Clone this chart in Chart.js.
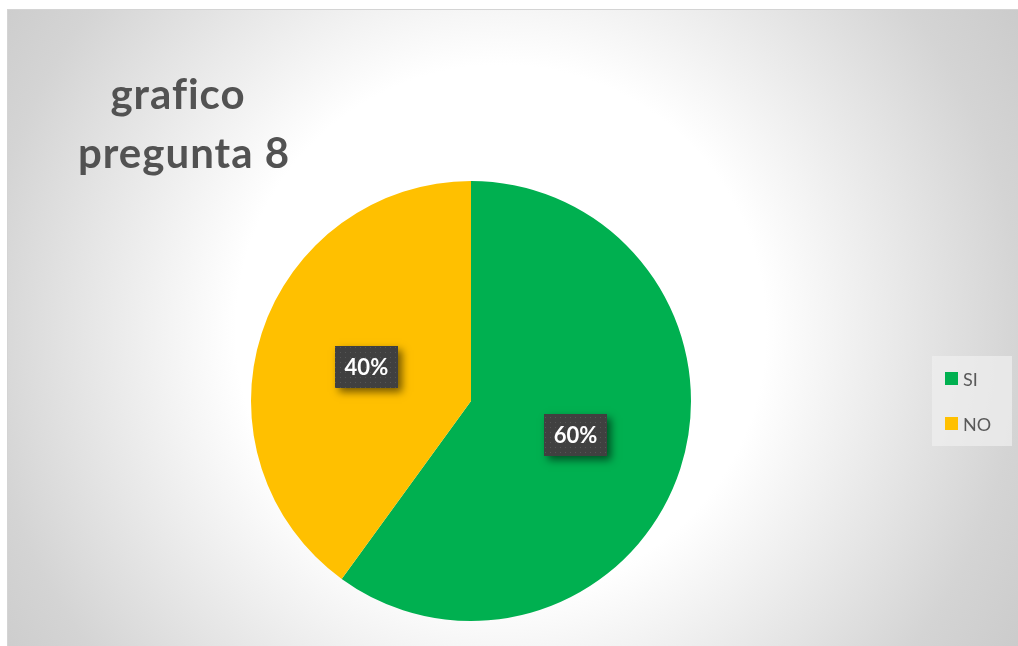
<!DOCTYPE html>
<html lang="es">
<head>
    <meta charset="UTF-8">
    <title>grafico pregunta 8</title>
    <script src="https://cdn.jsdelivr.net/npm/chart.js"></script>
    <style>
        body { margin: 0; padding: 0; background: #ffffff; }
        .panel {
            position: absolute; left: 7px; top: 9px; width: 1011px; height: 637px;
            border-top: 1px solid #d4d4d4; border-left: 1px solid #d4d4d4;
            background: radial-gradient(circle at 493px 320px, #ffffff 0, #ffffff 265px, #d4d4d4 520px, #c6c6c6 660px);
        }
        canvas { display: block; }
    </style>
</head>
<body>
    <div class="panel">
        <canvas id="pieChart" width="1011" height="637"></canvas>
    </div>

    <script>
        const titleLines = ["grafico", "pregunta 8"];
        const labels = ["SI", "NO"];
        const percents = [60, 40];
        const colors = ["#00B050", "#FFC000"];

        // dotted fill for the value boxes
        function dotPattern(ctx) {
            const c = document.createElement("canvas");
            c.width = 5; c.height = 5;
            const p = c.getContext("2d");
            p.fillStyle = "#404040";
            p.fillRect(0, 0, 5, 5);
            p.fillStyle = "#555555";
            p.fillRect(2, 2, 1, 1);
            return ctx.createPattern(c, "repeat");
        }

        const decorations = {
            id: "decorations",
            afterDatasetsDraw(chart) {
                const ctx = chart.ctx;
                const meta = chart.getDatasetMeta(0);
                const pattern = dotPattern(ctx);

                // value boxes
                meta.data.forEach((arc, i) => {
                    const pos = arc.tooltipPosition();
                    const w = 63, h = 42;
                    const x = Math.round(pos.x - w / 2), y = Math.round(pos.y - h / 2);
                    ctx.save();
                    ctx.shadowColor = "rgba(0,0,0,0.55)";
                    ctx.shadowBlur = 8;
                    ctx.shadowOffsetX = 4;
                    ctx.shadowOffsetY = 4;
                    ctx.fillStyle = "#404040";
                    ctx.fillRect(x, y, w, h);
                    ctx.restore();
                    ctx.save();
                    ctx.fillStyle = pattern;
                    ctx.fillRect(x, y, w, h);
                    ctx.fillStyle = "#ffffff";
                    ctx.font = "bold 22px Lato, 'Open Sans', sans-serif";
                    ctx.textAlign = "center";
                    ctx.textBaseline = "middle";
                    ctx.fillText(chart.data.datasets[0].data[i] + "%", pos.x, pos.y + 1);
                    ctx.restore();
                });

                // title (letter spacing also keeps "fi" from ligating)
                ctx.save();
                ctx.fillStyle = "#525252";
                ctx.font = "bold 42px Lato, 'Open Sans', sans-serif";
                ctx.letterSpacing = "1px";
                ctx.textAlign = "center";
                ctx.textBaseline = "alphabetic";
                ctx.fillText(titleLines[0], 170, 99);
                ctx.fillText(titleLines[1], 176, 158);
                ctx.restore();

                // legend
                ctx.save();
                ctx.fillStyle = "rgba(240,240,240,0.7)";
                ctx.fillRect(924, 346, 80, 90);
                ctx.font = "18px Lato, 'Open Sans', sans-serif";
                ctx.textAlign = "left";
                ctx.textBaseline = "alphabetic";
                chart.data.labels.forEach((lab, i) => {
                    const y = 362 + i * 45;
                    ctx.fillStyle = colors[i];
                    ctx.fillRect(937, y, 13, 13);
                    ctx.fillStyle = "#595959";
                    ctx.fillText(lab, 955, y + 14);
                });
                ctx.restore();
            }
        };

        new Chart(document.getElementById("pieChart"), {
            type: "pie",
            data: {
                labels: labels,
                datasets: [{
                    data: percents,
                    backgroundColor: colors,
                    borderWidth: 0
                }]
            },
            options: {
                responsive: false,
                animation: false,
                layout: { padding: { left: 243, right: 328, top: 171, bottom: 26 } },
                plugins: {
                    legend: { display: false },
                    title: { display: false },
                    tooltip: { enabled: false }
                }
            },
            plugins: [decorations]
        });
    </script>
</body>
</html>
